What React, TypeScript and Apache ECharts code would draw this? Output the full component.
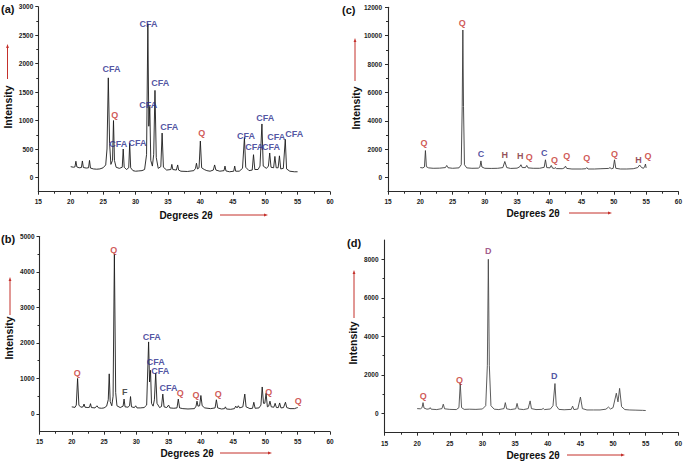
import React, { useEffect, useRef } from "react";
import * as echarts from "echarts";

// ---------- data ----------
const xTickLabels = [15, 20, 25, 30, 35, 40, 45, 50, 55, 60];

const patternA: [number, number][] = [
  [20.0, 190], [20.4, 180], [20.65, 185], [20.8, 285], [20.95, 185], [21.3, 170], [21.65, 175], [21.8, 290], [21.95, 175],
  [22.4, 165], [22.75, 170], [22.9, 300], [23.05, 165], [23.5, 150], [24.0, 145], [24.5, 150], [25.0, 170], [25.4, 220],
  [25.6, 500], [25.8, 1750], [26.0, 600], [26.2, 230], [26.45, 300], [26.6, 1000], [26.75, 300], [27.0, 180], [27.5, 160],
  [27.95, 180], [28.1, 500], [28.25, 180], [28.6, 140], [28.95, 170], [29.1, 600], [29.25, 170], [29.6, 120], [30.0, 110],
  [30.5, 115], [31.0, 120], [31.4, 140], [31.7, 400], [31.9, 2700], [32.05, 900], [32.2, 1250], [32.35, 300], [32.6, 200],
  [32.8, 400], [33.0, 1530], [33.2, 350], [33.5, 160], [33.9, 190], [34.1, 780], [34.3, 180], [34.8, 130], [35.45, 140],
  [35.6, 230], [35.75, 140], [36.3, 130], [36.5, 220], [36.65, 130], [37.0, 110], [38.0, 105], [39.0, 120], [39.25, 160],
  [39.4, 250], [39.55, 150], [39.8, 170], [40.0, 640], [40.2, 170], [40.6, 140], [41.0, 120], [41.5, 110], [42.0, 130],
  [42.2, 220], [42.4, 130], [43.0, 110], [43.65, 120], [43.8, 200], [43.95, 115], [44.5, 100], [45.15, 110], [45.3, 200],
  [45.45, 110], [46.0, 110], [46.5, 160], [46.8, 700], [47.0, 180], [47.5, 120], [48.0, 130], [48.2, 400], [48.4, 140],
  [48.9, 140], [49.2, 200], [49.5, 940], [49.7, 200], [50.2, 160], [50.5, 200], [50.7, 430], [50.9, 180], [51.3, 170],
  [51.5, 370], [51.7, 170], [52.0, 170], [52.2, 380], [52.4, 150], [52.8, 160], [53.1, 670], [53.3, 150], [53.8, 110],
  [54.5, 100], [55.0, 100],
];

const patternB: [number, number][] = [
  [20.0, 200], [20.5, 185], [20.7, 250], [20.9, 1000], [21.1, 250], [21.4, 190], [21.75, 200], [21.9, 280], [22.05, 190],
  [22.5, 180], [22.75, 190], [22.9, 290], [23.05, 180], [23.6, 170], [23.9, 230], [24.15, 170], [24.6, 160], [25.0, 170],
  [25.4, 220], [25.65, 400], [25.8, 1130], [25.95, 350], [26.2, 230], [26.4, 500], [26.6, 4500], [26.8, 600], [27.0, 230],
  [27.5, 180], [27.95, 220], [28.1, 420], [28.25, 200], [28.7, 190], [28.95, 230], [29.1, 490], [29.25, 200], [29.7, 180],
  [29.9, 230], [30.1, 170], [30.6, 170], [31.2, 180], [31.6, 250], [31.9, 2030], [32.05, 900], [32.2, 1230], [32.35, 300],
  [32.6, 220], [32.8, 400], [33.0, 1150], [33.2, 300], [33.6, 180], [33.9, 210], [34.1, 560], [34.3, 200], [34.7, 180],
  [35.0, 250], [35.2, 170], [35.8, 160], [36.3, 170], [36.5, 420], [36.7, 170], [37.2, 150], [38.0, 140], [39.0, 150],
  [39.25, 220], [39.4, 360], [39.55, 220], [39.8, 230], [40.0, 520], [40.2, 230], [40.6, 170], [41.5, 150], [42.2, 170],
  [42.4, 400], [42.6, 170], [43.2, 140], [43.65, 150], [43.8, 200], [43.95, 140], [44.6, 130], [45.2, 150], [45.4, 220],
  [45.6, 170], [45.8, 230], [46.0, 170], [46.5, 200], [46.8, 560], [47.0, 200], [47.6, 150], [48.0, 160], [48.2, 330],
  [48.4, 160], [49.0, 170], [49.3, 250], [49.5, 760], [49.7, 300], [49.9, 300], [50.1, 580], [50.3, 200], [50.5, 220],
  [50.7, 360], [50.9, 200], [51.3, 190], [51.5, 300], [51.7, 180], [52.0, 180], [52.2, 310], [52.4, 170], [52.8, 180],
  [53.1, 330], [53.3, 180], [53.8, 150], [54.5, 150], [54.8, 170], [55.0, 180],
];

const patternC: [number, number][] = [
  [20.0, 700], [20.4, 680], [20.65, 750], [20.8, 1900], [20.95, 760], [21.3, 680], [22.0, 650], [23.0, 660], [23.9, 700],
  [24.1, 850], [24.3, 690], [25.0, 650], [26.0, 680], [26.35, 900], [26.5, 5000], [26.6, 10400], [26.7, 5000], [26.85, 900],
  [27.2, 680], [28.0, 650], [29.0, 660], [29.25, 750], [29.4, 1170], [29.55, 740], [30.0, 650], [31.0, 640], [32.0, 650],
  [32.8, 700], [33.1, 1130], [33.4, 700], [34.0, 640], [35.0, 660], [35.4, 750], [35.6, 900], [35.8, 700], [36.3, 700],
  [36.5, 850], [36.7, 680], [37.5, 650], [38.5, 650], [39.2, 720], [39.4, 1250], [39.6, 700], [40.1, 680], [40.3, 850],
  [40.5, 660], [40.8, 640], [40.9, 700], [41.1, 630], [42.0, 620], [42.35, 680], [42.5, 800], [42.7, 640], [43.5, 600],
  [45.0, 600], [45.65, 620], [45.8, 700], [46.0, 600], [47.0, 600], [48.0, 620], [49.2, 640], [49.4, 700], [49.6, 620],
  [49.9, 650], [50.1, 1250], [50.3, 650], [51.0, 600], [52.0, 600], [53.0, 620], [53.7, 700], [54.0, 880], [54.3, 700],
  [54.6, 650], [54.8, 800], [54.9, 950], [55.0, 680],
];

const patternD: [number, number][] = [
  [20.0, 250], [20.5, 240], [20.75, 300], [20.9, 560], [21.05, 280], [21.5, 220], [21.9, 240], [22.0, 300], [22.15, 220],
  [23.0, 200], [23.8, 250], [24.0, 480], [24.2, 240], [25.0, 210], [26.0, 200], [26.4, 300], [26.6, 1550], [26.8, 300],
  [27.2, 210], [28.0, 220], [29.0, 210], [30.0, 230], [30.5, 400], [30.75, 2500], [30.9, 8000], [31.05, 2500], [31.3, 400],
  [31.8, 220], [32.5, 200], [33.3, 250], [33.5, 560], [33.7, 240], [34.3, 200], [35.1, 240], [35.3, 520], [35.5, 230],
  [36.3, 200], [37.0, 250], [37.3, 650], [37.5, 250], [38.2, 200], [39.1, 210], [39.3, 260], [39.5, 200], [40.4, 230],
  [40.8, 400], [41.1, 1550], [41.3, 400], [41.7, 210], [42.5, 190], [43.6, 210], [43.8, 380], [44.0, 200], [44.6, 230],
  [45.0, 850], [45.3, 250], [46.0, 180], [47.0, 180], [48.0, 180], [48.9, 220], [49.3, 330], [49.6, 230], [50.0, 300],
  [50.5, 1050], [50.75, 600], [51.0, 1300], [51.3, 350], [51.8, 200], [52.5, 180], [53.5, 170], [54.5, 160], [55.0, 150],
];

// peak annotations: [text, 2θ, intensity]
const labelsA: [string, number, number][] = [
  ["CFA", 26.3, 1906], ["Q", 26.8, 1100], ["CFA", 27.35, 582], ["CFA", 30.3, 600], ["CFA", 32.0, 2700],
  ["CFA", 31.95, 1265], ["CFA", 33.8, 1660], ["CFA", 35.2, 894], ["Q", 40.2, 776], ["CFA", 47.05, 729],
  ["CFA", 48.3, 541], ["CFA", 50.0, 1041], ["CFA", 50.9, 541], ["CFA", 51.7, 718], ["CFA", 54.5, 759],
];
const labelsB: [string, number, number][] = [
  ["Q", 20.85, 1168], ["Q", 26.5, 4626], ["F", 28.2, 607], ["CFA", 32.4, 2178], ["CFA", 33.0, 1477],
  ["CFA", 33.7, 1224], ["CFA", 35.0, 738], ["Q", 36.8, 589], ["Q", 39.26, 533], ["Q", 42.7, 570],
  ["Q", 50.5, 607], ["Q", 55.1, 374],
];
const labelsC: [string, number, number][] = [
  ["Q", 20.57, 2400], ["Q", 26.5, 10870], ["C", 29.4, 1650], ["H", 33.1, 1620], ["H", 35.5, 1500],
  ["Q", 36.9, 1460], ["C", 39.2, 1760], ["Q", 40.8, 1270], ["Q", 42.7, 1550], ["Q", 45.8, 1410],
  ["Q", 50.1, 1650], ["H", 53.8, 1270], ["Q", 55.3, 1500],
];
const labelsD: [string, number, number][] = [
  ["Q", 20.95, 897], ["Q", 26.5, 1759], ["D", 30.9, 8448], ["D", 41.0, 1931],
];

// y-axis tick labels per panel
const yLabelsA = [0, 500, 1000, 1500, 2000, 2500, 3000];
const yLabelsB = [0, 1000, 2000, 3000, 4000, 5000];
const yLabelsC = [0, 2000, 4000, 6000, 8000, 10000, 12000];
const yLabelsD = [0, 2000, 4000, 6000, 8000];
const yMinorA = [250, 750, 1250, 1750, 2250, 2750];
const yMinorB = [500, 1500, 2500, 3500, 4500];
const yMinorC = [1000, 3000, 5000, 7000, 9000, 11000];
const yMinorD = [1000, 3000, 5000, 7000];

// ---------- styles ----------
const FONT = "'Liberation Sans', Arial, Helvetica, sans-serif";
const RED = "#c4302b";
const BLUE = "#26288a";
const MAROON = "#7a1f30";
const tagColor: Record<string, string> = { CFA: BLUE, Q: RED, C: BLUE, H: MAROON, F: "#222222", D: BLUE };
const colorsD = [RED, RED, "#8a2f6e", BLUE];

const panels = [
  { grid: { left: 38.3, top: 6.7, width: 291.7, height: 185 }, min: -250, max: 3000, data: patternA, labels: labelsA, yl: yLabelsA, ym: yMinorA, line: "#1c1c1c", lm: 5 },
  { grid: { left: 39.5, top: 236.5, width: 290.5, height: 195.2 }, min: -500, max: 5000, data: patternB, labels: labelsB, yl: yLabelsB, ym: yMinorB, line: "#1c1c1c", lm: 5 },
  { grid: { left: 388, top: 7.3, width: 290.5, height: 184.4 }, min: -1000, max: 12000, data: patternC, labels: labelsC, yl: yLabelsC, ym: yMinorC, line: "#3a3a3a", lm: 6 },
  { grid: { left: 384.5, top: 240, width: 295.5, height: 192.7 }, min: -1000, max: 9000, data: patternD, labels: labelsD, yl: yLabelsD, ym: yMinorD, line: "#4a4a4a", lm: 6 },
];

function vArrow(x: number, y1: number, y2: number) {
  return [
    { type: "line", shape: { x1: x, y1: y1 + 3, x2: x, y2 }, style: { stroke: RED, lineWidth: 1 } },
    { type: "polygon", shape: { points: [[x, y1], [x - 1.4, y1 + 4], [x + 1.4, y1 + 4]] }, style: { fill: RED } },
  ];
}
function hArrow(x1: number, x2: number, y: number) {
  return [
    { type: "line", shape: { x1, y1: y, x2: x2 - 3, y2: y }, style: { stroke: RED, lineWidth: 1 } },
    { type: "polygon", shape: { points: [[x2, y], [x2 - 4, y - 1.4], [x2 - 4, y + 1.4]] }, style: { fill: RED } },
  ];
}
function txt(text: string, x: number, y: number, size: number, rotate = false, align = "center") {
  return {
    type: "text",
    x,
    y,
    rotation: rotate ? Math.PI / 2 : 0,
    style: {
      text,
      fill: "#111111",
      font: `bold ${size}px ${FONT}`,
      align,
      verticalAlign: "middle",
      textAlign: align,
      textVerticalAlign: "middle",
    },
  };
}

export default function App() {
  const ref = useRef<HTMLDivElement>(null);

  useEffect(() => {
    if (!ref.current) return;
    const chart = echarts.init(ref.current, undefined, { renderer: "svg" });
    const axisColor = "#2a2a2a";
    const labelStyle = {
      fontSize: 6.5,
      fontWeight: "bold",
      color: "#222",
      fontFamily: FONT,
      formatter: (v: number) => String(v),
    };

    const grids = panels.map((p) => ({ ...p.grid, containLabel: false }));
    const xAxes = panels.map((p, i) => ({
      gridIndex: i,
      type: "value",
      min: 15,
      max: 60,
      interval: 5,
      axisLine: { show: true, onZero: false, lineStyle: { color: axisColor, width: 1.1 } },
      axisTick: { show: true, length: 3, lineStyle: { color: axisColor, width: 1 } },
      minorTick: { show: true, splitNumber: 2, length: 2, lineStyle: { color: axisColor, width: 1 } },
      splitLine: { show: false },
      axisLabel: { ...labelStyle, margin: i === 3 ? 7 : 6, customValues: xTickLabels },
    }));
    const yAxes: any[] = [];
    panels.forEach((p, i) => {
      yAxes.push({
        gridIndex: i,
        type: "value",
        min: p.min,
        max: p.max,
        axisLine: { show: true, onZero: false, lineStyle: { color: axisColor, width: 1.1 } },
        axisTick: { show: true, length: 3, customValues: p.yl, lineStyle: { color: axisColor, width: 1 } },
        splitLine: { show: false },
        axisLabel: { ...labelStyle, margin: p.lm, customValues: p.yl },
      });
      yAxes.push({
        gridIndex: i,
        type: "value",
        min: p.min,
        max: p.max,
        position: "left",
        axisLine: { show: false },
        axisTick: { show: true, length: 2, customValues: p.ym, lineStyle: { color: axisColor, width: 1 } },
        splitLine: { show: false },
        axisLabel: { show: false },
      });
    });

    const series: any[] = [];
    panels.forEach((p, i) => {
      series.push({
        type: "line",
        xAxisIndex: i,
        yAxisIndex: 2 * i,
        data: p.data,
        showSymbol: false,
        symbol: "none",
        lineStyle: { color: p.line, width: 0.9 },
        silent: true,
      });
      series.push({
        type: "scatter",
        xAxisIndex: i,
        yAxisIndex: 2 * i,
        symbolSize: 1,
        itemStyle: { color: "transparent" },
        silent: true,
        z: 5,
        data: p.labels.map(([t, x, y], j) => ({
          value: [x, y],
          name: t,
          label: { color: i === 3 ? colorsD[j] : tagColor[t] || "#222" },
        })),
        label: {
          show: true,
          position: "inside",
          formatter: "{b}",
          fontSize: 9,
          fontWeight: "bold",
          fontFamily: FONT,
        },
      });
    });

    const graphic: any[] = [
      txt("(a)", 1, 9, 11, false, "left"),
      txt("(c)", 342, 10, 11, false, "left"),
      txt("(b)", 1, 239, 11, false, "left"),
      txt("(d)", 347, 243, 11, false, "left"),
      txt("Intensity", 8, 107, 10.5, true),
      txt("Intensity", 356, 108, 10.5, true),
      txt("Intensity", 9, 338, 10.5, true),
      txt("Intensity", 352.5, 343, 10.5, true),
      txt("Degrees 2\u03b8", 186, 215, 10),
      txt("Degrees 2\u03b8", 533, 213, 10),
      txt("Degrees 2\u03b8", 187, 453, 10),
      txt("Degrees 2\u03b8", 533, 455, 10),
      ...vArrow(7.5, 44, 79),
      ...vArrow(355, 38, 81),
      ...vArrow(10, 277, 315),
      ...vArrow(354, 270, 318),
      ...hArrow(220, 268, 215),
      ...hArrow(569, 612, 213),
      ...hArrow(220, 272, 453),
      ...hArrow(567, 625, 455),
    ];

    chart.setOption({
      animation: false,
      backgroundColor: "#ffffff",
      grid: grids,
      xAxis: xAxes,
      yAxis: yAxes,
      series,
      graphic,
    });
    return () => chart.dispose();
  }, []);

  return (
    <div
      ref={ref}
      style={{ position: "fixed", left: 0, top: 0, width: 685, height: 463, background: "#fff" }}
    />
  );
}
